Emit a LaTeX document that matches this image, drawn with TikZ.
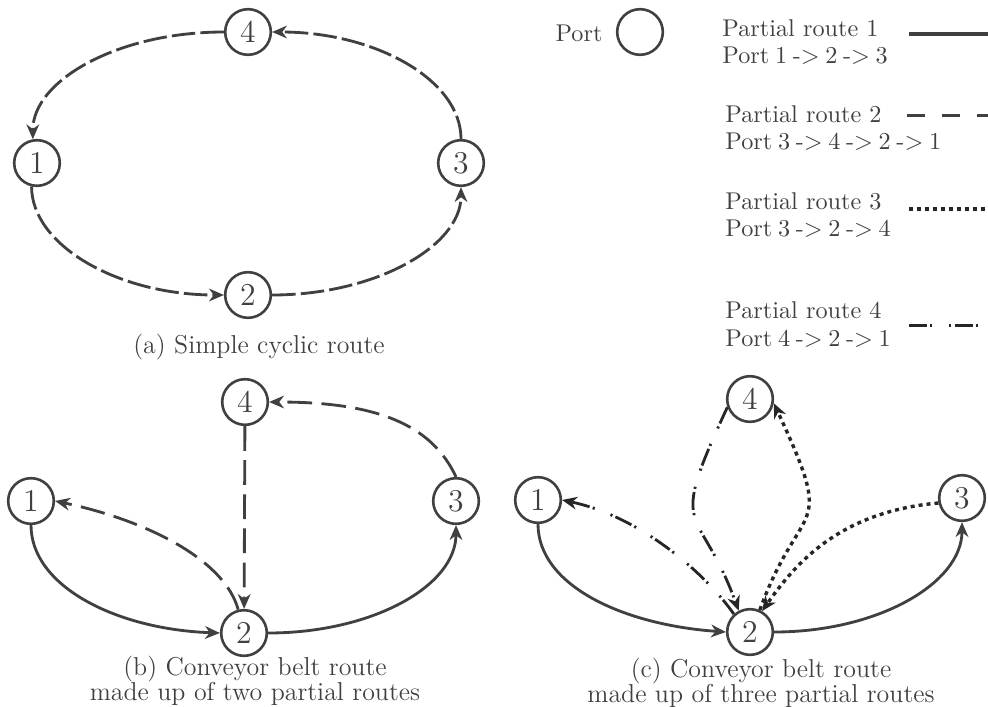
\documentclass[tikz,border=0pt]{standalone}
\usetikzlibrary{arrows.meta}
\definecolor{ink}{HTML}{404040}
\definecolor{inkdark}{HTML}{262626}
\newcommand{\tightline}[1]{{\spaceskip=2.4pt plus 1pt #1}}
\begin{document}
\begin{tikzpicture}[x=0.425pt,y=-0.425pt,
  port/.style={circle,draw=ink,line width=1.1pt,minimum size=19.4pt,inner sep=0pt,text=ink,font=\fontsize{13.5}{15}\selectfont},
  route/.style={draw=ink,line width=1.2pt,-{Stealth[length=6.3pt,width=5.4pt,inset=2pt]}},
  cyc/.style={route,dash pattern=on 10pt off 2.2pt},
  rtwo/.style={route,dash pattern=on 10.5pt off 4pt},
  rthree/.style={route,draw=inkdark,line width=1.45pt,dash pattern=on 1.7pt off 1.7pt},
  rfour/.style={route,draw=inkdark,dash pattern=on 7.6pt off 1.4pt on 0.9pt off 7.2pt on 0.9pt off 1.4pt},
  captext/.style={align=center,text=ink,font=\fontsize{11}{10.8}\selectfont},
  legtext/.style={anchor=west,align=left,text=ink,inner sep=0pt,font=\fontsize{10.3}{11.6}\selectfont},
  legline/.style={line width=1.35pt}]
\useasboundingbox (0,0) rectangle (988,706);

% ---------- (a) simple cyclic route
\node[port] (a4) at (248,32) {4};
\node[port] (a1) at (37,163) {1};
\node[port] (a3) at (461,163) {3};
\node[port] (a2) at (248,295) {2};
\draw[cyc] (a4.west) to[out=180,in=90,out distance=45pt,in distance=25pt] (a1.100);
\draw[cyc] (a1.257) to[out=-90,in=180,out distance=25pt,in distance=45pt] (a2.west);
\draw[cyc] (a2.east) to[out=0,in=-90,out distance=44pt,in distance=25pt] (a3.south);
\draw[cyc] (a3.north) to[out=90,in=0,out distance=25pt,in distance=44pt] (a4.east);
\node[captext] (capa) at (259,347) {(a) Simple cyclic route};

% ---------- (b) conveyor belt, two partial routes
\node[port] (b4) at (245,402) {4};
\node[port] (b1) at (31,501) {1};
\node[port] (b3) at (456,501) {3};
\node[port] (b2) at (244,633) {2};
\draw[route] (b1.south) to[out=-90,in=178,out distance=26pt,in distance=44pt] (b2.west);
\draw[route] (b2.east) to[out=0,in=-90,out distance=44pt,in distance=26pt] (b3.south);
\draw[rtwo] (b3.north) to[out=115,in=0,out distance=25pt,in distance=45pt] (b4.east);
\draw[rtwo] (b4) -- (b2);
\draw[rtwo] (b2.104) to[out=105,in=-12,out distance=21pt,in distance=42pt] (b1.east);
\node[captext] (capb) at (255,681) {(b) Conveyor belt route\\made up of two partial routes};

% ---------- (c) conveyor belt, three partial routes
\node[port] (c4) at (750,399) {4};
\node[port] (c1) at (538,500) {1};
\node[port] (c3) at (962,498) {3};
\node[port] (c2) at (750,632) {2};
\draw[route] (c1.south) to[out=-90,in=176,out distance=26pt,in distance=44pt] (c2.west);
\draw[route] (c2.east) to[out=0,in=-90,out distance=44pt,in distance=26pt] (c3.south);
\draw[rfour] (c4.200) to[out=245,in=110,out distance=62pt,in distance=50pt] (c2.118);
\draw[rfour] (c2.132) to[out=125,in=-12,out distance=20pt,in distance=35pt] (c1.east);
\draw[rthree] (c3.192) to[out=185,in=55,out distance=42pt,in distance=25pt] (c2.60);
\draw[rthree] (c2.66) to[out=70,in=-65,out distance=52pt,in distance=64pt] (c4.350);
\node[captext] (capc) at (761,683) {(c) Conveyor belt route\\made up of three partial routes};

% ---------- legend
\node[text=ink,font=\fontsize{10.3}{12}\selectfont] (portlbl) at (579,33) {Port};
\node[port] (portsym) at (640,32) {};

\node[legtext] (l1) at (722,42) {Partial route 1\\\tightline{Port 1 -> 2 -> 3}};
\node[legtext] (l2) at (725,128) {Partial route 2\\\tightline{Port 3 -> 4 -> 2 -> 1}};
\node[legtext] (l3) at (725,215) {Partial route 3\\\tightline{Port 3 -> 2 -> 4}};
\node[legtext] (l4) at (725,324.5) {Partial route 4\\\tightline{Port 4 -> 2 -> 1}};

\coordinate (e1s) at (909,34);    \coordinate (e1e) at (988,34);
\coordinate (e2s) at (907,115.5); \coordinate (e2e) at (988,115.5);
\coordinate (e3s) at (909,209);   \coordinate (e3e) at (988,209);
\coordinate (e4s) at (909,325.5); \coordinate (e4e) at (988,325.5);
\draw[legline,draw=ink] (e1s) -- (e1e);
\draw[legline,draw=ink,dash pattern=on 7.5pt off 7.4pt] (e2s) -- (e2e);
\draw[legline,draw=inkdark,dash pattern=on 1.7pt off 1.7pt] (e3s) -- (e3e);
\draw[legline,draw=inkdark,dash pattern=on 7.6pt off 1.4pt on 0.9pt off 7.2pt on 0.9pt off 1.4pt] (e4s) -- (e4e);
\end{tikzpicture}
\end{document}
